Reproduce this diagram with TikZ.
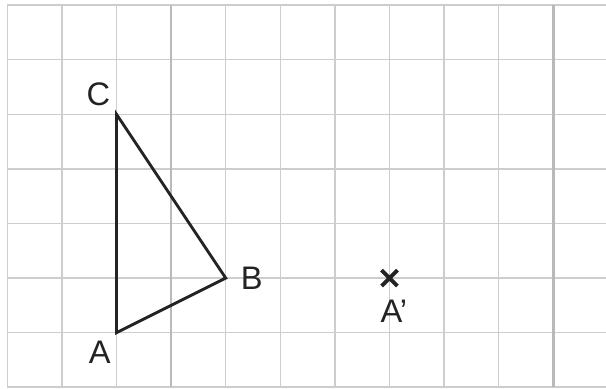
\documentclass[tikz,border=0pt]{standalone}
\usepackage{fontspec}
\setmainfont{Liberation Sans}
\usepackage{tikz}
\usetikzlibrary{positioning,shapes.misc}

\definecolor{gridgray}{RGB}{205,205,205}
\definecolor{boldgray}{RGB}{185,185,185}
\definecolor{inkdark}{RGB}{35,35,35}

\begin{document}
\begin{tikzpicture}[
  font=\fontsize{17}{19}\selectfont,
  gridline/.style={draw=gridgray, line width=0.8pt},
  gridbold/.style={draw=boldgray, line width=1.4pt},
  sideline/.style={draw=inkdark, line width=1.5pt},
  ptlabel/.style={inner sep=0pt, text=inkdark},
  crossmark/.style={cross out, draw=inkdark, line width=2pt, minimum size=0.22cm, inner sep=0pt}
]
  \useasboundingbox (-0.134,-0.03) rectangle (10.965,7.093);
  % squared paper
  \draw[gridline] (0,0) grid (10.965,7);
  \draw[gridbold] (3,0) -- (3,7);
  \draw[gridbold] (10,0) -- (10,7);
  % triangle ABC
  \coordinate (pA) at (2,1);
  \coordinate (pB) at (4,2);
  \coordinate (pC) at (2,5);
  \draw[sideline] (pA) -- (pB) -- (pC) -- cycle;
  \node[ptlabel, below left=0.14cm and 0.1cm of pA] (labA) {A};
  \node[ptlabel, right=0.27cm of pB] (labB) {B};
  \node[ptlabel, above left=0.14cm and 0.11cm of pC] (labC) {C};
  % image point A'
  \node[crossmark] (pAp) at (7,2) {};
  \node[ptlabel, below=0.4cm of pAp.center, xshift=0.08cm] (labAp) {A'};
\end{tikzpicture}
\end{document}
